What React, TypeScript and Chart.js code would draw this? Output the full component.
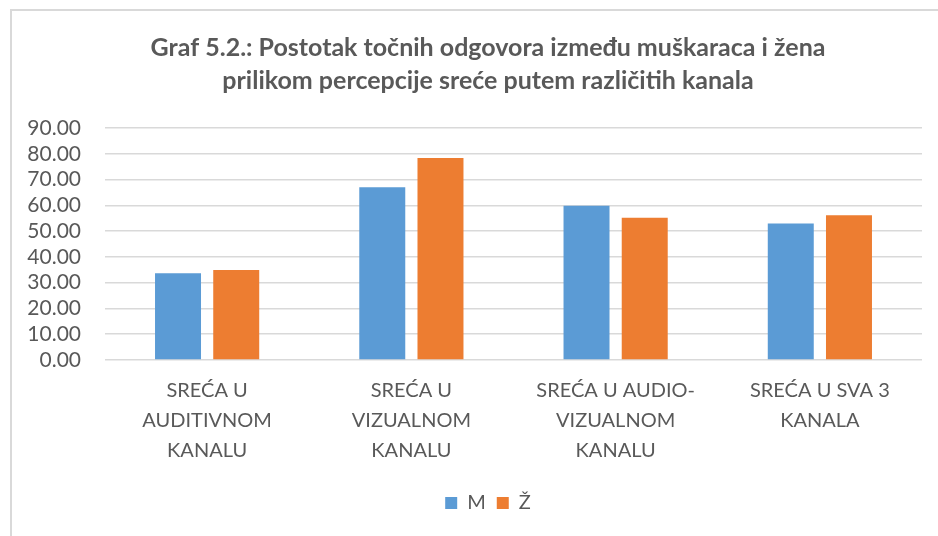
import React, { useEffect, useRef } from "react";
import { Chart, registerables } from "chart.js";

Chart.register(...registerables);

const categories: string[][] = [
  ["SREĆA U", "AUDITIVNOM", "KANALU"],
  ["SREĆA U", "VIZUALNOM", "KANALU"],
  ["SREĆA U AUDIO-", "VIZUALNOM", "KANALU"],
  ["SREĆA U SVA 3", "KANALA"],
];
const seriesM = [33.7, 67.0, 59.8, 53.0];
const seriesZ = [34.9, 78.4, 55.2, 56.2];
const titleLines = [
  "Graf 5.2.: Postotak točnih odgovora između muškaraca i žena",
  "prilikom percepcije sreće putem različitih kanala",
];

const FONT = "Lato, 'Open Sans', sans-serif";
const GREY = "#595959";

export default function App() {
  const ref = useRef<HTMLCanvasElement | null>(null);
  useEffect(() => {
    if (!ref.current) return;
    const chart = new Chart(ref.current, {
      type: "bar",
      data: {
        labels: categories,
        datasets: [
          { label: "M", data: seriesM, backgroundColor: "#5B9BD5", barPercentage: 0.79, categoryPercentage: 0.57 },
          { label: "Ž", data: seriesZ, backgroundColor: "#ED7D31", barPercentage: 0.79, categoryPercentage: 0.57 },
        ],
      },
      options: {
        responsive: false,
        animation: false,
        layout: { padding: { left: 0, right: 0, top: 0, bottom: 0 } },
        plugins: {
          title: {
            display: true,
            text: titleLines,
            color: GREY,
            font: { family: FONT, size: 25, weight: "bold", lineHeight: 1.32 },
            padding: { top: 20, bottom: 31 },
          },
          legend: {
            position: "bottom",
            labels: {
              color: GREY,
              font: { family: FONT, size: 20 },
              boxWidth: 12,
              boxHeight: 12,
              padding: 11,
            },
          },
          tooltip: { enabled: false },
        },
        scales: {
          x: {
            grid: { display: false, drawTicks: false },
            border: { display: false },
            ticks: {
              color: GREY,
              font: { family: FONT, size: 20, lineHeight: 1.5 },
              padding: 16,
              maxRotation: 0,
              autoSkip: false,
            },
          },
          y: {
            min: 0,
            max: 90,
            grid: { color: "#d9d9d9", lineWidth: 1.5, drawTicks: false },
            border: { display: false },
            ticks: {
              stepSize: 10,
              autoSkip: false,
              color: GREY,
              font: { family: FONT, size: 21 },
              padding: 24,
              callback: (v: any) => Number(v).toFixed(2),
            },
            afterFit: (scale: any) => {
              scale.width = 93;
            },
          },
          yRight: {
            position: "right",
            display: true,
            grid: { display: false, drawTicks: false },
            border: { display: false },
            ticks: { display: false },
            afterFit: (scale: any) => {
              scale.width = 42;
            },
          },
        },
      },
    });
    return () => chart.destroy();
  }, []);
  return (
    <div style={{ position: "fixed", left: 0, top: 0, width: 938, height: 536, overflow: "hidden", background: "#fff" }}>
      <div
        style={{
          position: "absolute",
          left: 10,
          top: 9,
          width: 952,
          height: 540,
          borderLeft: "2px solid #d9d9d9",
          borderTop: "2px solid #d9d9d9",
        }}
      >
        <canvas ref={ref} width={952} height={512} style={{ display: "block", width: 952, height: 512 }} />
      </div>
    </div>
  );
}
